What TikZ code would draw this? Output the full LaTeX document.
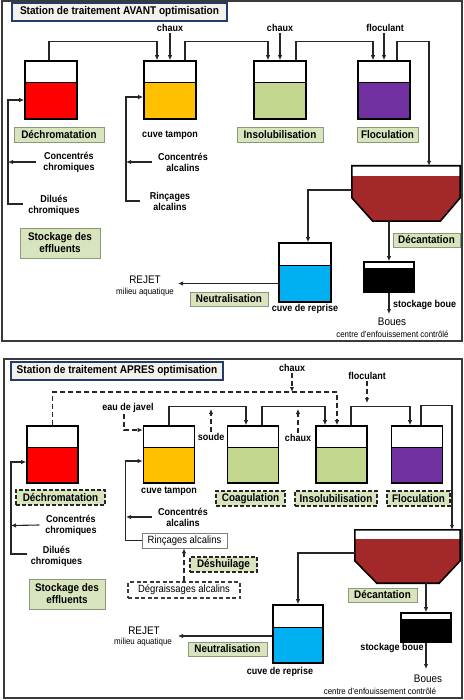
\documentclass[tikz,border=0pt]{standalone}
\usepackage{fontspec}
\setmainfont{Liberation Sans}[FakeStretch=0.9]
\usetikzlibrary{arrows.meta}
\definecolor{tred}{HTML}{FF0000}
\definecolor{torange}{HTML}{FFC000}
\definecolor{tgreen}{HTML}{C2D68E}
\definecolor{tpurple}{HTML}{7030A0}
\definecolor{tblue}{HTML}{00B0F0}
\definecolor{decred}{HTML}{A3282A}
\definecolor{lblfill}{HTML}{D7E4BD}
\definecolor{lblborder}{HTML}{8A9A78}
\definecolor{ttlfill}{HTML}{F2F1EC}
\definecolor{ttlborder}{HTML}{243B6E}
\definecolor{panelc}{HTML}{3A3A3A}
\definecolor{linec}{HTML}{262626}
\begin{document}
\begin{tikzpicture}[x=1pt,y=-1pt,
  tank/.style 2 args={draw=black, line width=1.6pt, fill=#1, inner sep=0pt,
    path picture={\fill[white] (path picture bounding box.north west) rectangle ([yshift=-#2pt]path picture bounding box.north east);
      \draw[line width=1pt] ([yshift=-#2pt]path picture bounding box.north west) -- ([yshift=-#2pt]path picture bounding box.north east);}},
  small/.style={font=\bfseries\fontsize{10}{11}\selectfont, align=center, inner sep=1pt},
  reg/.style={font=\fontsize{#1}{#1}\selectfont, inner sep=0pt},
  lbl/.style={draw=lblborder, fill=lblfill, line width=0.9pt, font=\bfseries\fontsize{11}{12}\selectfont, inner sep=0pt, align=center},
  lbld/.style={lbl, draw=linec, line width=1.5pt, dash pattern=on 4pt off 2pt},
  ttl/.style={draw=ttlborder, fill=ttlfill, line width=1.4pt, font=\bfseries\fontsize{11.2}{12}\selectfont, inner sep=0pt},
  panel/.style={draw=panelc, line width=1.5pt},
  conn/.style={draw=linec, line width=1.1pt, -{Latex[length=5pt,width=4.5pt]}},
  dconn/.style={draw=linec, line width=1.6pt, dash pattern=on 5pt off 3pt, -{Latex[length=5pt,width=4.5pt]}},
  box/.style={draw=gray, fill=white, line width=0.8pt, font=\fontsize{10.5}{11}\selectfont, inner sep=0pt},
  boxd/.style={box, draw=linec!90, line width=1.3pt, dash pattern=on 4pt off 2.5pt}
]
\useasboundingbox (0,0) rectangle (463,700);

%================ TOP PANEL =================
\draw[panel] (2,1) rectangle (462,341);
\node[ttl, minimum width=215, minimum height=18] (ttl1) at (119.5,12) {Station de traitement AVANT optimisation};

\node[tank={tred}{22}, minimum width=52, minimum height=58] (T1) at (51,90) {};
\node[tank={torange}{22}, minimum width=52, minimum height=58] (T2) at (170,90) {};
\node[tank={tgreen}{22}, minimum width=52, minimum height=58] (T3) at (280,90) {};
\node[tank={tpurple}{22}, minimum width=52, minimum height=58] (T4) at (384,90) {};
\node[tank={tblue}{22}, minimum width=52, minimum height=59] (CR1) at (305,272.5) {};
\node[tank={black}{6}, minimum width=50, minimum height=30] (SB1) at (389,277) {};

% decanter
\node[minimum width=108, minimum height=55, inner sep=0pt] (dec1) at (406,193.5) {};
\fill[decred] (dec1.north west) -- (dec1.north east) -- ([yshift=-32pt]dec1.north east) -- ([xshift=-20pt]dec1.south east) -- ([xshift=21pt]dec1.south west) -- ([yshift=-32pt]dec1.north west) -- cycle;
\fill[white] (dec1.north west) rectangle ([yshift=-10pt]dec1.north east);
\draw[black, line width=1.6pt] (dec1.north west) -- (dec1.north east) -- ([yshift=-32pt]dec1.north east) -- ([xshift=-20pt]dec1.south east) -- ([xshift=21pt]dec1.south west) -- ([yshift=-32pt]dec1.north west) -- cycle;

\node[small] (chaux1) at (170,28) {chaux};
\node[small] (chaux2) at (280,28) {chaux};
\node[small] (floc1) at (385,28) {floculant};
\draw[conn] (chaux1.south) -- (T2.north);
\draw[conn] (chaux2.south) -- (T3.north);
\draw[conn] (floc1.south -| T4.north) -- (T4.north);

\draw[conn] ([xshift=-2pt]T1.north) -- ++(0,-19) -| ([xshift=-13pt]T2.north);
\draw[conn] ([xshift=15pt]T2.north) -- ++(0,-19) -| ([xshift=-12pt]T3.north);
\draw[conn] ([xshift=16pt]T3.north) -- ++(0,-19) -| ([xshift=-11pt]T4.north);
\draw[conn] ([xshift=13pt]T4.north) -- ++(0,-19) -| ([xshift=23pt]dec1.north);

\node[lbl, minimum width=90, minimum height=15] (l1) at (59,134.5) {Déchromatation};
\node[small] (ct1) at (170,135) {cuve tampon};
\node[lbl, minimum width=86, minimum height=15] (l3) at (280,134.5) {Insolubilisation};
\node[lbl, minimum width=61, minimum height=15] (l4) at (387.5,134.5) {Floculation};

\node[small] (cc1) at (69,162) {Concentrés\\chromiques};
\node[small] (dc1) at (54,205.5) {Dilués\\chromiques};
\node[lbl, minimum width=80, minimum height=30] (st1) at (60,243) {Stockage des\\effluents};
\node[small] (ca1) at (183,162) {Concentrés\\alcalins};
\node[small] (ra1) at (170,201.5) {Rinçages\\alcalins};

\coordinate (bk1) at (23,204);
\coordinate (bk1c) at (8,204);
\draw[conn] (bk1) -- (bk1c) |- ([yshift=-10pt]T1.west);
\coordinate (cc1e) at (8,162);
\draw[conn] ([xshift=-6pt]cc1.west) -- (cc1e);
\coordinate (bk2) at (140,201);
\coordinate (bk2c) at (126,201);
\draw[conn] (bk2) -- (bk2c) |- ([yshift=-7pt]T2.west);
\coordinate (ca1e) at (126,162);
\draw[conn] ([xshift=-5pt]ca1.west) -- (ca1e);

\draw[conn] ([yshift=3.5pt]dec1.west) -| ([xshift=3pt]CR1.north);
\draw[conn] ([xshift=-17pt]dec1.south) -- (SB1.north);
\coordinate (b1e) at (389,314);
\draw[conn] (SB1.south) -- (b1e);
\coordinate (rej1e) at (178,283.5);
\draw[conn] ([yshift=-11pt]CR1.west) -- (rej1e);

\node[reg=11] (rej1) at (145,280) {REJET};
\node[reg=8.8] (mil1) at (145,292) {milieu aquatique};
\node[lbl, minimum width=78, minimum height=14] (neu1) at (229,299) {Neutralisation};
\node[small] (cdr1) at (305,309) {cuve de reprise};
\node[lbl, minimum width=67, minimum height=14] (dcl1) at (426.5,240) {Décantation};
\node[small, anchor=west] (sbt1) at (392,305) {stockage boue};
\node[reg=11] (bo1) at (392,322) {Boues};
\node[reg=8.8] (ce1) at (392.5,334) {centre d'enfouissement contrôlé};

%================ BOTTOM PANEL =================
\draw[panel] (4,359) rectangle (462,698);
\node[ttl, minimum width=212, minimum height=18] (ttl2) at (117,371) {Station de traitement APRES optimisation};

\node[tank={tred}{21}, minimum width=51, minimum height=57] (U1) at (52.5,454.5) {};
\node[tank={torange}{21}, minimum width=51, minimum height=57] (U2) at (169,454.5) {};
\node[tank={tgreen}{21}, minimum width=51, minimum height=57] (U3) at (253,454.5) {};
\node[tank={tgreen}{21}, minimum width=51, minimum height=57] (U4) at (341.5,454.5) {};
\node[tank={tpurple}{21}, minimum width=51, minimum height=57] (U5) at (417,454.5) {};
\node[tank={tblue}{22}, minimum width=50, minimum height=58] (CR2) at (298,634) {};
\node[tank={black}{6}, minimum width=50, minimum height=29] (SB2) at (426,627.5) {};

\node[minimum width=105, minimum height=53, inner sep=0pt] (dec2) at (407.5,556.5) {};
\fill[decred] (dec2.north west) -- (dec2.north east) -- ([yshift=-31pt]dec2.north east) -- ([xshift=-21pt]dec2.south east) -- ([xshift=22pt]dec2.south west) -- ([yshift=-31pt]dec2.north west) -- cycle;
\fill[white] (dec2.north west) rectangle ([yshift=-9pt]dec2.north east);
\draw[black, line width=1.6pt] (dec2.north west) -- (dec2.north east) -- ([yshift=-31pt]dec2.north east) -- ([xshift=-21pt]dec2.south east) -- ([xshift=22pt]dec2.south west) -- ([yshift=-31pt]dec2.north west) -- cycle;

\node[small] (chaux3) at (292,368) {chaux};
\node[small] (ej) at (128,408) {eau de javel};
\node[small] (soude) at (211,437) {soude};
\node[small] (chaux4) at (298,438) {chaux};
\node[small] (floc2) at (367,376) {floculant};

\draw[dconn] (U1.north) -- ++(0,-33) -| ([xshift=-4.5pt]U4.north);
\coordinate (cx3e) at (292,392);
\draw[dconn] (chaux3.south) -- (cx3e);
\draw[dconn] ([xshift=-4pt]ej.south) |- ([yshift=24.5pt]U2.west);
\draw[conn] (U2.north) -- ++(0,-19) -| ([xshift=-7pt]U3.north);
\coordinate (sde) at (211,409);
\draw[dconn] (soude.north) -- (sde);
\draw[conn] ([xshift=9pt]U3.north) -- ++(0,-19) -| ([xshift=-16.5pt]U4.north);
\coordinate (cx4e) at (298,409);
\draw[dconn] (chaux4.north) -- (cx4e);
\draw[conn] ([xshift=9.5pt]U4.north) -- ++(0,-19) -| ([xshift=-7pt]U5.north);
\coordinate (fl2e) at (367,403);
\draw[dconn] (floc2.south) -- (fl2e);
\draw[conn] ([xshift=4pt]U5.north) -- ++(0,-20) -| ([xshift=44.5pt]dec2.north);

\node[lbld, minimum width=89, minimum height=15] (m1) at (60.5,497.5) {Déchromatation};
\node[small] (ct2) at (169,491) {cuve tampon};
\node[lbld, minimum width=69, minimum height=15] (m3) at (250.5,498.5) {Coagulation};
\node[lbld, minimum width=82, minimum height=15] (m4) at (336,498.5) {Insolubilisation};
\node[lbld, minimum width=63, minimum height=15] (m5) at (418.5,498.5) {Floculation};

\node[small] (cc2) at (71,525) {Concentrés\\chromiques};
\node[small] (dc2) at (56.5,556.5) {Dilués\\chromiques};
\node[lbl, minimum width=76, minimum height=30] (st2) at (67,594) {Stockage des\\effluents};
\node[small] (ca2) at (183,517) {Concentrés\\alcalins};
\node[box, minimum width=85, minimum height=15] (rinc) at (184.5,540.5) {Rinçages alcalins};
\node[lbld, minimum width=67, minimum height=15] (desh) at (223.5,564.5) {Déshuilage};
\node[boxd, minimum width=112, minimum height=16] (deg) at (184,590) {Dégraissages alcalins};

\coordinate (bk3) at (27,554);
\coordinate (bk3c) at (11,554);
\draw[conn] (bk3) -- (bk3c) |- ([yshift=-7.5pt]U1.west);
\coordinate (cc2e) at (11,525.5);
\draw[conn] ([xshift=-5pt]cc2.west) -- (cc2e);
\draw[conn] (rinc.west) -- ++(-16,0) |- ([yshift=-6.5pt]U2.west);
\coordinate (ca2e) at (126,517);
\draw[conn] ([xshift=-5pt]ca2.west) -- (ca2e);
\draw[dconn] (deg.north) -- (deg.north |- rinc.south);

\draw[conn] ([yshift=3.5pt]dec2.west) -| (CR2.north);
\draw[conn] ([xshift=18.5pt]dec2.south) -- (SB2.north);
\coordinate (b2e) at (426,669);
\draw[conn] (SB2.south) -- (b2e);
\coordinate (rej2e) at (178,636);
\draw[conn] ([yshift=-2pt]CR2.west) -- (rej2e);

\node[reg=11] (rej2) at (144,631) {REJET};
\node[reg=8.8] (mil2) at (143,642) {milieu aquatique};
\node[lbl, minimum width=79, minimum height=14] (neu2) at (227.5,649) {Neutralisation};
\node[small] (cdr2) at (280,672) {cuve de reprise};
\node[lbl, minimum width=69, minimum height=14] (dcl2) at (382.5,595) {Décantation};
\node[small] (sbt2) at (392,648) {stockage boue};
\node[reg=11] (bo2) at (428,679) {Boues};
\node[reg=8.8] (ce2) at (380,691) {centre d'enfouissement contrôlé};
\end{tikzpicture}
\end{document}
